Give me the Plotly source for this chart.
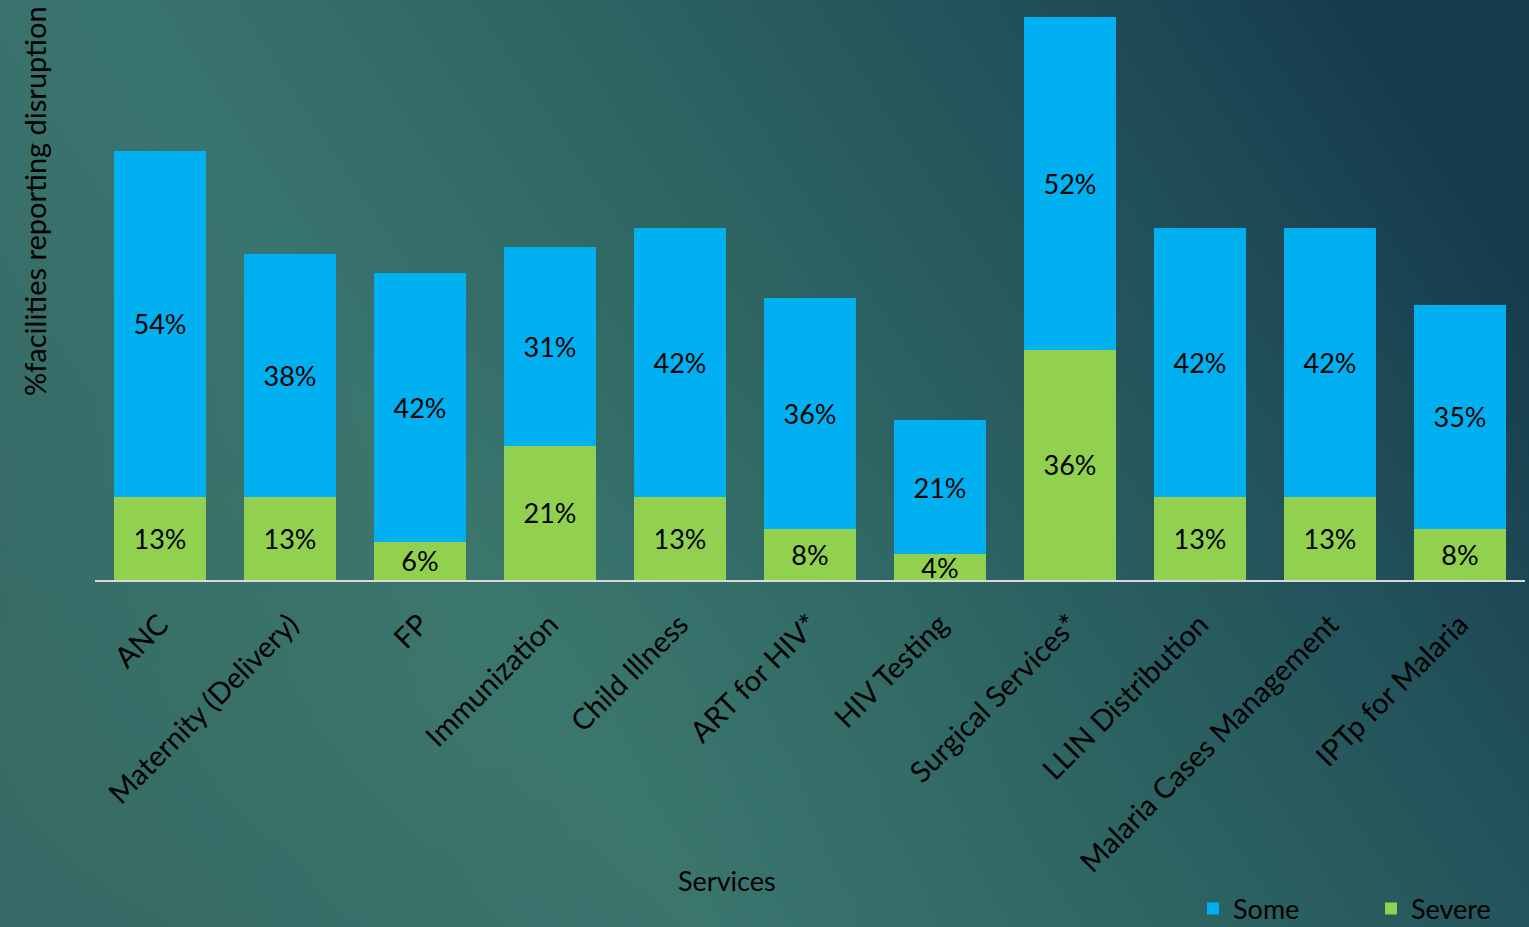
import base64
import plotly.graph_objects as go

# Service categories and share of facilities reporting disruption (%)
services = [
    "ANC", "Maternity (Delivery)", "FP", "Immunization", "Child Illness",
    "ART for HIV*", "HIV Testing", "Surgical Services*", "LLIN Distribution",
    "Malaria Cases Management", "IPTp for Malaria",
]
severe = [13, 13, 6, 21, 13, 8, 4, 36, 13, 13, 8]
some = [54, 38, 42, 31, 42, 36, 21, 52, 42, 42, 35]

W, H = 1529, 927
ML, MR, MT, MB = 95, 4, 0, 347
FONT = "Lato, 'Open Sans', sans-serif"

# Slide-style gradient backdrop
svg = f"""<svg xmlns='http://www.w3.org/2000/svg' width='{W}' height='{H}' viewBox='0 0 {W} {H}' preserveAspectRatio='none'>
<defs>
<linearGradient id='g' x1='0' y1='0.65' x2='1' y2='0.25'>
<stop offset='0' stop-color='#366a66'/>
<stop offset='0.28' stop-color='#3a746e'/>
<stop offset='0.55' stop-color='#2d6462'/>
<stop offset='0.78' stop-color='#22515a'/>
<stop offset='1' stop-color='#153a4b'/>
</linearGradient>
<radialGradient id='r' cx='0.3' cy='0.75' r='0.4'>
<stop offset='0' stop-color='#40806f' stop-opacity='0.25'/>
<stop offset='1' stop-color='#40806f' stop-opacity='0'/>
</radialGradient>
</defs>
<rect width='{W}' height='{H}' fill='url(#g)'/>
<rect width='{W}' height='{H}' fill='url(#r)'/>
</svg>"""
bg_uri = "data:image/svg+xml;base64," + base64.b64encode(svg.encode()).decode()

pw = W - ML - MR
ph = H - MT - MB

bar_text = dict(
    texttemplate="%{y}%", textposition="inside", insidetextanchor="middle",
    textfont=dict(family=FONT, size=27, color="black"), constraintext="none",
    marker_line_width=0,
)

fig = go.Figure()
fig.add_trace(go.Bar(x=services, y=severe, name="Severe",
                     marker_color="#92d050", legendrank=2, **bar_text))
fig.add_trace(go.Bar(x=services, y=some, name="Some",
                     marker_color="#00b0f0", legendrank=1, **bar_text))

fig.update_layout(
    width=W, height=H,
    barmode="stack", bargap=0.285,
    margin=dict(l=ML, r=MR, t=MT, b=MB, autoexpand=False),
    paper_bgcolor="#2f6663", plot_bgcolor="rgba(0,0,0,0)",
    font=dict(family=FONT, color="black"),
    xaxis=dict(
        tickangle=-45, tickfont=dict(size=29, color="black"),
        showline=True, linecolor="#d9d9d9", linewidth=2,
        showgrid=False, ticks="", ticklabelstandoff=14,
    ),
    yaxis=dict(range=[0, 90.6], showticklabels=False, showgrid=False,
               zeroline=False, showline=False),
    legend=dict(
        orientation="h", traceorder="normal",
        xref="container", yref="container",
        x=1193 / W, y=1 - 909 / H, xanchor="left", yanchor="middle",
        entrywidth=133, font=dict(size=27, color="black"),
        bgcolor="rgba(0,0,0,0)",
    ),
    images=[dict(
        source=bg_uri, xref="paper", yref="paper",
        x=-ML / pw, y=1 + MT / ph, sizex=W / pw, sizey=H / ph,
        sizing="stretch", layer="below", xanchor="left", yanchor="top",
    )],
    annotations=[
        dict(text="%facilities reporting disruption", textangle=-90,
             xref="paper", yref="paper", x=(35 - ML) / pw, y=1 - (201 - MT) / ph,
             xanchor="center", yanchor="middle",
             showarrow=False, font=dict(size=29, color="black")),
        dict(text="Services", xref="paper", yref="paper",
             x=(727 - ML) / pw, y=1 - (880 - MT) / ph,
             xanchor="center", yanchor="middle",
             showarrow=False, font=dict(size=27, color="black")),
    ],
)

fig.write_html("out.html")
